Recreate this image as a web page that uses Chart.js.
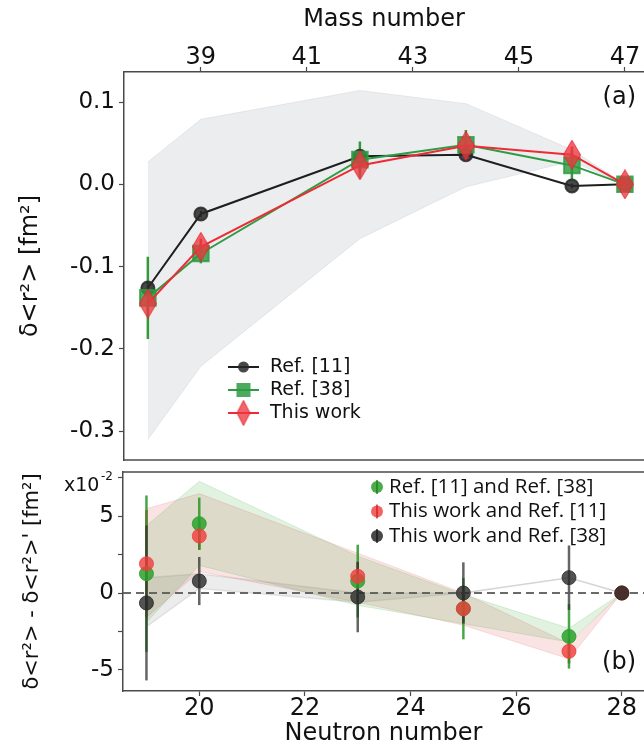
<!DOCTYPE html>
<html>
<head>
<meta charset="utf-8">
<script src="https://cdn.jsdelivr.net/npm/chart.js@4.4.1/dist/chart.umd.min.js"></script>
<style>
  html, body { margin: 0; padding: 0; background: #fff; }
  #wrap { position: relative; width: 644px; height: 748px; overflow: hidden; }
  canvas { position: absolute; left: 0; }
  #chart-a { top: 0; }
  #chart-b { top: 465px; }
</style>
</head>
<body>
<div id="wrap">
  <canvas id="chart-a" width="644" height="465"></canvas>
  <canvas id="chart-b" width="644" height="283"></canvas>
</div>
<script>
// ---- panel (a): charge radius differences vs mass number ----
const MASS = [38, 39, 42, 44, 46, 47];
const MASS_TICKS = [39, 41, 43, 45, 47];
const RADIUS_TICKS = [-0.3, -0.2, -0.1, 0.0, 0.1];

const REF11 = [-0.126, -0.036, 0.034, 0.036, -0.002, 0];
const REF11_ERR = [0.006, 0.004, 0.004, 0.004, 0.003, 0];
const REF38 = [-0.138, -0.084, 0.030, 0.048, 0.023, 0];
const REF38_ERR = [0.05, 0.012, 0.022, 0.018, 0.017, 0];
const THIS_WORK = [-0.145, -0.076, 0.023, 0.047, 0.036, 0];
const THIS_WORK_ERR = [0.012, 0.01, 0.01, 0.01, 0.01, 0];

const BAND_HI = [0.027, 0.079, 0.114, 0.098, 0.042, 0];
const BAND_LO = [-0.31, -0.221, -0.066, -0.003, 0.028, 0];

const LEGEND_A = ['Ref. [11]', 'Ref. [38]', 'This work'];

// ---- panel (b): differences between data sets (x10^-2 fm^2) ----
const NEUTRONS = [19, 20, 23, 25, 27, 28];
const NEUTRON_TICKS = [20, 22, 24, 26, 28];
const DIFF_TICKS = [-5, -2.5, 0, 2.5, 5, 7.5];
const DIFF_LABELS = [-5, 0, 5];

const DIFF_11_38 = [1.26, 4.52, 0.78, -1.02, -2.83, 0];
const DIFF_11_38_ERR = [5.1, 1.7, 2.37, 2.0, 2.1, 0];
const DIFF_TW_11 = [1.91, 3.72, 1.09, -1.02, -3.8, 0];
const DIFF_TW_11_ERR = [3.5, 0.9, 0.9, 0.9, 0.8, 0];
const DIFF_TW_38 = [-0.65, 0.78, -0.26, 0, 1.0, 0];
const DIFF_TW_38_ERR = [5.05, 1.57, 2.3, 2.0, 2.1, 0];

const BAND_11_38_HI = [4.4, 7.28, 2.4, -0.1, -2.3, 0];
const BAND_11_38_LO = [-1.9, 1.8, -0.8, -2.0, -3.2, 0];
const BAND_TW_11_HI = [5.5, 6.48, 2.6, 0.0, -3.3, 0];
const BAND_TW_11_LO = [-1.6, 1.4, -0.6, -2.1, -4.3, 0];
const BAND_TW_38_HI = [1.0, 1.26, 0.0, 0, 1.0, 0];
const BAND_TW_38_LO = [-2.2, 0.3, -0.6, 0, 1.0, 0];

const LEGEND_B = ['Ref. [11] and Ref. [38]', 'This work and Ref. [11]', 'This work and Ref. [38]'];

// axis ranges
const MASS_MIN = 37.55, MASS_MAX = 47.36;
const N_MIN = 18.556, N_MAX = 28.42;

const FONT = 'DejaVu Sans';
const AXIS_COLOR = '#4a4a4a';
const TEXT_COLOR = '#111';

const BLACK = '#1e1e1e';
const GREEN = '#2f9c45';
const RED = '#ee2b35';

const pts = (xs, ys) => xs.map((x, i) => ({ x: x, y: ys[i] }));

function thinDiamond(w, h, fill, stroke) {
    const c = document.createElement('canvas');
    c.width = w;
    c.height = h;
    const g = c.getContext('2d');
    g.beginPath();
    g.moveTo(w / 2, 0.5);
    g.lineTo(w - 0.5, h / 2);
    g.lineTo(w / 2, h - 0.5);
    g.lineTo(0.5, h / 2);
    g.closePath();
    g.fillStyle = fill;
    g.fill();
    g.strokeStyle = stroke;
    g.lineWidth = 1;
    g.stroke();
    return c;
}

const DIAMOND = thinDiamond(18, 30, 'rgba(238,55,65,0.78)', 'rgba(230,40,50,0.9)');
const DIAMOND_SMALL = thinDiamond(14, 26, 'rgba(238,55,65,0.78)', 'rgba(230,40,50,0.9)');

// vertical error bars, drawn through the chart's scales
function errorBars(items) {
    return {
        id: 'errorBars',
        beforeDatasetsDraw(chart) {
            const { ctx, scales } = chart;
            ctx.save();
            items.forEach(item => {
                ctx.strokeStyle = item.color;
                ctx.lineWidth = item.width;
                item.xs.forEach((xv, i) => {
                    const e = item.err[i];
                    if (!e) return;
                    const px = scales.x.getPixelForValue(xv);
                    ctx.beginPath();
                    ctx.moveTo(px, scales.y.getPixelForValue(item.ys[i] - e));
                    ctx.lineTo(px, scales.y.getPixelForValue(item.ys[i] + e));
                    ctx.stroke();
                });
            });
            ctx.restore();
        }
    };
}

// extra frame line (the axis on the other side is not drawn by Chart.js)
function edgeLine(edge) {
    return {
        id: 'edgeLine',
        afterDraw(chart) {
            const { ctx, chartArea } = chart;
            const y = edge === 'bottom' ? chartArea.bottom : chartArea.top;
            ctx.save();
            ctx.strokeStyle = AXIS_COLOR;
            ctx.lineWidth = 1.5;
            ctx.beginPath();
            ctx.moveTo(chartArea.left, y);
            ctx.lineTo(chartArea.right, y);
            ctx.stroke();
            ctx.restore();
        }
    };
}

function axisLook(extra) {
    return Object.assign({
        type: 'linear',
        grid: { display: true, drawOnChartArea: false, drawTicks: true, tickLength: 5, tickWidth: 1.2, tickColor: AXIS_COLOR },
        border: { display: true, color: AXIS_COLOR, width: 1.5 }
    }, extra);
}

// fixed axis boxes so the plot areas sit where the figure has them
function fixWidth(w) {
    return s => { s.width = w; s.paddingTop = 0; s.paddingBottom = 0; };
}
function fixHeight(h) {
    return s => { s.height = h; s.paddingLeft = 0; s.paddingRight = 0; };
}

const legendA = {
    id: 'legendA',
    afterDraw(chart) {
        const ctx = chart.ctx;
        const colors = [BLACK, GREEN, RED];
        ctx.save();
        LEGEND_A.forEach((label, i) => {
            const y = 367 + i * 23;
            ctx.strokeStyle = colors[i];
            ctx.lineWidth = 2;
            ctx.beginPath();
            ctx.moveTo(228, y);
            ctx.lineTo(259, y);
            ctx.stroke();
            if (i === 0) {
                ctx.fillStyle = 'rgba(40,40,40,0.85)';
                ctx.beginPath();
                ctx.arc(243.5, y, 5.5, 0, Math.PI * 2);
                ctx.fill();
            } else if (i === 1) {
                ctx.fillStyle = 'rgba(44,155,65,0.85)';
                ctx.fillRect(236.5, y - 7, 14, 14);
            } else {
                ctx.drawImage(DIAMOND_SMALL, 243.5 - DIAMOND_SMALL.width / 2, y - DIAMOND_SMALL.height / 2);
            }
            ctx.fillStyle = TEXT_COLOR;
            ctx.font = '19px "' + FONT + '"';
            ctx.textBaseline = 'middle';
            ctx.fillText(label, 270, y);
        });
        ctx.font = '24px "' + FONT + '"';
        ctx.textAlign = 'right';
        ctx.textBaseline = 'middle';
        ctx.fillText('(a)', 636, 98);
        ctx.restore();
    }
};

const legendB = {
    id: 'legendB',
    afterDraw(chart) {
        const ctx = chart.ctx;
        const fills = ['rgba(44,160,44,0.85)', 'rgba(240,60,60,0.8)', 'rgba(40,40,40,0.85)'];
        const bars = ['rgba(30,120,30,0.9)', 'rgba(200,30,30,0.9)', 'rgba(20,20,20,0.9)'];
        ctx.save();
        LEGEND_B.forEach((label, i) => {
            const y = 22 + i * 24.5;
            ctx.fillStyle = fills[i];
            ctx.beginPath();
            ctx.arc(377, y, 6, 0, Math.PI * 2);
            ctx.fill();
            ctx.strokeStyle = bars[i];
            ctx.lineWidth = 1.5;
            ctx.beginPath();
            ctx.moveTo(377, y - 7);
            ctx.lineTo(377, y + 7);
            ctx.stroke();
            ctx.fillStyle = TEXT_COLOR;
            ctx.font = '20.5px "Open Sans"';
            ctx.textBaseline = 'middle';
            ctx.fillText(label, 389, y);
        });
        // axis multiplier
        ctx.font = '19px "' + FONT + '"';
        ctx.textBaseline = 'alphabetic';
        ctx.fillText('x10', 64, 26);
        ctx.font = '12px "' + FONT + '"';
        ctx.fillText('-2', 101, 15);
        ctx.font = '24px "' + FONT + '"';
        ctx.textAlign = 'right';
        ctx.textBaseline = 'middle';
        ctx.fillText('(b)', 636, 198);
        ctx.restore();
    }
};

window.ChartA = new Chart(document.getElementById('chart-a').getContext('2d'), {
    type: 'line',
    data: {
        datasets: [
            {
                data: pts(MASS, BAND_HI), fill: '+1', backgroundColor: 'rgba(200,204,210,0.35)',
                borderColor: 'rgba(200,204,210,0.4)', borderWidth: 1, pointRadius: 0, order: 10
            },
            {
                data: pts(MASS, BAND_LO), fill: false,
                borderColor: 'rgba(200,204,210,0.4)', borderWidth: 1, pointRadius: 0, order: 10
            },
            {
                label: LEGEND_A[0], data: pts(MASS, REF11), borderColor: BLACK, borderWidth: 2,
                pointStyle: 'circle', pointRadius: 6.5, pointBackgroundColor: 'rgba(40,40,40,0.85)',
                pointBorderColor: 'rgba(40,40,40,0.85)', order: 3
            },
            {
                label: LEGEND_A[1], data: pts(MASS, REF38), borderColor: GREEN, borderWidth: 2,
                pointStyle: 'rect', pointRadius: 11, pointBackgroundColor: 'rgba(44,155,65,0.82)',
                pointBorderColor: 'rgba(44,155,65,0.82)', order: 2
            },
            {
                label: LEGEND_A[2], data: pts(MASS, THIS_WORK), borderColor: RED, borderWidth: 2,
                pointStyle: DIAMOND, order: 1
            }
        ]
    },
    options: {
        responsive: false,
        animation: false,
        layout: { autoPadding: false, padding: { top: 0, right: 0, bottom: 5, left: 0 } },
        elements: { line: { tension: 0 } },
        scales: {
            x: axisLook({
                position: 'top', min: MASS_MIN, max: MASS_MAX,
                afterBuildTicks: s => { s.ticks = MASS_TICKS.map(v => ({ value: v })); },
                afterFit: fixHeight(72),
                ticks: { color: TEXT_COLOR, font: { family: FONT, size: 24, lineHeight: 0.8 }, padding: 0, maxRotation: 0, autoSkip: false },
                title: { display: true, text: 'Mass number', color: TEXT_COLOR, font: { family: FONT, size: 24, lineHeight: 1 }, padding: { top: 8, bottom: 0 } }
            }),
            y: axisLook({
                min: -0.335, max: 0.1365,
                afterBuildTicks: s => { s.ticks = RADIUS_TICKS.map(v => ({ value: v })); },
                afterFit: fixWidth(124),
                ticks: { color: TEXT_COLOR, font: { family: FONT, size: 23 }, padding: 4, callback: v => v.toFixed(1) },
                title: { display: true, text: 'δ<r²> [fm²]', color: TEXT_COLOR, font: { family: FONT, size: 24, lineHeight: 1.2 }, padding: { top: 16, bottom: 0 } }
            })
        },
        plugins: {
            legend: { display: false },
            tooltip: { enabled: false },
            filler: { drawTime: 'beforeDatasetsDraw', propagate: false }
        }
    },
    plugins: [
        errorBars([
            { xs: MASS, ys: REF11, err: REF11_ERR, color: 'rgba(30,30,30,0.9)', width: 2 },
            { xs: MASS, ys: THIS_WORK, err: THIS_WORK_ERR, color: 'rgba(220,30,40,0.9)', width: 2.5 },
            { xs: MASS, ys: REF38, err: REF38_ERR, color: 'rgba(40,150,50,0.95)', width: 2.5 }
        ]),
        edgeLine('bottom'),
        legendA
    ]
});

window.ChartB = new Chart(document.getElementById('chart-b').getContext('2d'), {
    type: 'line',
    data: {
        datasets: [
            { data: pts(NEUTRONS, BAND_11_38_HI), fill: '+1', backgroundColor: 'rgba(44,160,44,0.14)', borderColor: 'rgba(44,160,44,0.15)', borderWidth: 1, pointRadius: 0, order: 10 },
            { data: pts(NEUTRONS, BAND_11_38_LO), fill: false, borderColor: 'rgba(44,160,44,0.15)', borderWidth: 1, pointRadius: 0, order: 10 },
            { data: pts(NEUTRONS, BAND_TW_11_HI), fill: '+1', backgroundColor: 'rgba(214,39,40,0.13)', borderColor: 'rgba(214,39,40,0.12)', borderWidth: 1, pointRadius: 0, order: 10 },
            { data: pts(NEUTRONS, BAND_TW_11_LO), fill: false, borderColor: 'rgba(214,39,40,0.12)', borderWidth: 1, pointRadius: 0, order: 10 },
            { data: pts(NEUTRONS, BAND_TW_38_HI), fill: '+1', backgroundColor: 'rgba(128,128,128,0.15)', borderColor: 'rgba(128,128,128,0.18)', borderWidth: 1.5, pointRadius: 0, order: 10 },
            { data: pts(NEUTRONS, BAND_TW_38_LO), fill: false, borderColor: 'rgba(128,128,128,0.18)', borderWidth: 1.5, pointRadius: 0, order: 10 },
            {
                data: [{ x: N_MIN, y: 0 }, { x: N_MAX, y: 0 }], borderColor: 'rgba(90,90,90,0.9)',
                borderWidth: 2, borderDash: [8, 5], pointRadius: 0, order: 5
            },
            { label: LEGEND_B[0], data: pts(NEUTRONS, DIFF_11_38), showLine: false, pointRadius: 7, pointBackgroundColor: 'rgba(44,160,44,0.85)', pointBorderColor: 'rgba(44,160,44,0.85)', order: 3 },
            { label: LEGEND_B[1], data: pts(NEUTRONS, DIFF_TW_11), showLine: false, pointRadius: 7, pointBackgroundColor: 'rgba(240,60,60,0.8)', pointBorderColor: 'rgba(240,60,60,0.8)', order: 2 },
            { label: LEGEND_B[2], data: pts(NEUTRONS, DIFF_TW_38), showLine: false, pointRadius: 7, pointBackgroundColor: 'rgba(40,40,40,0.8)', pointBorderColor: 'rgba(40,40,40,0.8)', order: 1 }
        ]
    },
    options: {
        responsive: false,
        animation: false,
        layout: { autoPadding: false, padding: { top: 7, right: 0, bottom: 0, left: 0 } },
        elements: { line: { tension: 0 } },
        scales: {
            x: axisLook({
                position: 'bottom', min: N_MIN, max: N_MAX,
                afterBuildTicks: s => { s.ticks = NEUTRON_TICKS.map(v => ({ value: v })); },
                afterFit: fixHeight(57),
                ticks: { color: TEXT_COLOR, font: { family: FONT, size: 24, lineHeight: 1 }, padding: 1, maxRotation: 0, autoSkip: false },
                title: { display: true, text: 'Neutron number', color: TEXT_COLOR, font: { family: FONT, size: 24, lineHeight: 1 }, padding: { top: 0, bottom: 2 } }
            }),
            y: axisLook({
                min: -6.39, max: 7.89,
                afterBuildTicks: s => { s.ticks = DIFF_TICKS.map(v => ({ value: v })); },
                afterFit: fixWidth(123),
                ticks: { color: TEXT_COLOR, font: { family: FONT, size: 23 }, padding: 4, callback: v => DIFF_LABELS.includes(v) ? String(v) : '' },
                title: { display: true, text: "δ<r²> - δ<r²>' [fm²]", color: TEXT_COLOR, font: { family: FONT, size: 21, lineHeight: 1.2 }, padding: { top: 20, bottom: 0 } }
            })
        },
        plugins: {
            legend: { display: false },
            tooltip: { enabled: false },
            filler: { drawTime: 'beforeDatasetsDraw', propagate: false }
        }
    },
    plugins: [
        errorBars([
            { xs: NEUTRONS, ys: DIFF_TW_11, err: DIFF_TW_11_ERR, color: 'rgba(210,30,30,0.85)', width: 2.5 },
            { xs: NEUTRONS, ys: DIFF_11_38, err: DIFF_11_38_ERR, color: 'rgba(40,150,40,0.85)', width: 2.5 },
            { xs: NEUTRONS, ys: DIFF_TW_38, err: DIFF_TW_38_ERR, color: 'rgba(50,50,50,0.75)', width: 2.5 }
        ]),
        edgeLine('top'),
        legendB
    ]
});
</script>
</body>
</html>
